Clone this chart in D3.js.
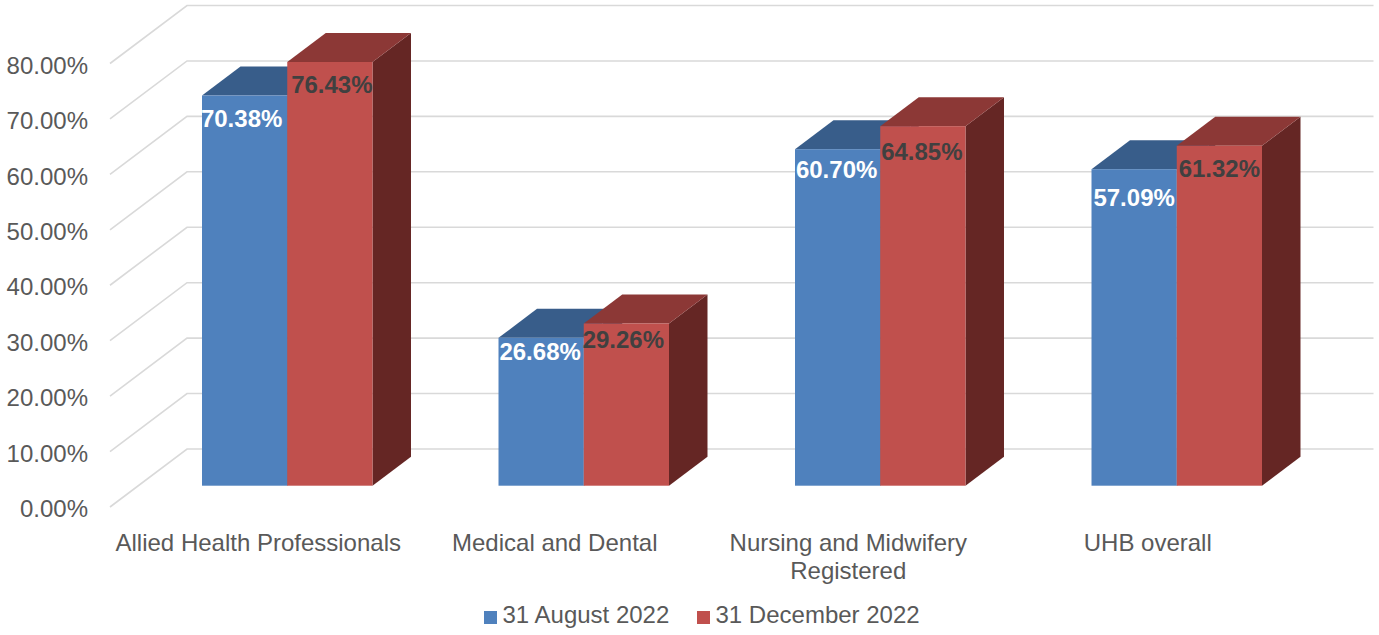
<!DOCTYPE html>
<html>
<head>
<meta charset="utf-8">
<script src="https://cdn.jsdelivr.net/npm/d3@7"></script>
<style>
  html, body { margin: 0; background: #fff; }
  svg { display: block; }
  text { font-family: "Liberation Sans", Arial, sans-serif; font-size: 24px; fill: #595959; }
</style>
</head>
<body>
<svg id="chart" width="1379" height="635"></svg>
<script>
const categories = ["Allied Health Professionals", "Medical and Dental", "Nursing and Midwifery Registered", "UHB overall"];
const seriesNames = ["31 August 2022", "31 December 2022"];
const august = [70.38, 26.68, 60.70, 57.09];
const december = [76.43, 29.26, 64.85, 61.32];
const yTicks = [0, 10, 20, 30, 40, 50, 60, 70, 80];

// labels were dragged by hand in the original chart, so each one has its own nudge
const augustNudgeX = [-3, -1, -1, 0];
const augustNudgeY = [0, -9, -2, 6];
const decemberNudgeX = [2, -3, -1, 0];
const decemberNudgeY = [0, -6, 3, 0];

const blue = { front: "#4f81bd", top: "#385d8a", side: "#2c4a6e", label: "#ffffff" };
const red = { front: "#c0504d", top: "#8c3836", side: "#652624", label: "#404040" };

const svg = d3.select("#chart");

// the 3d look: floor depth in px, bars sit part way back on the floor
const wallDx = 77, wallDy = -58;
const barInsetDx = 28, barInsetDy = -21.3;
const barDx = 38.5, barDy = -29;

const y = d3.scaleLinear().domain([0, 80]).range([507, 63.5]);
const x = d3.scaleBand().domain(categories).range([110, 1296]);
const xBars = d3.scaleBand().domain(categories).range([139, 1325]).paddingInner(0.425).paddingOuter(0.2125);
const xSeries = d3.scaleBand().domain(seriesNames).range([0, xBars.bandwidth()]);

// gridlines run along the side wall then across the back wall
svg.append("g").selectAll("path")
  .data(yTicks)
  .enter()
  .append("path")
  .attr("d", d => {
    const p = d3.path();
    p.moveTo(x.range()[0], y(d));
    p.lineTo(x.range()[0] + wallDx, y(d) + wallDy);
    p.lineTo(x.range()[1] + wallDx + 0.5, y(d) + wallDy);
    return p.toString();
  })
  .attr("fill", "none")
  .attr("stroke", "#d9d9d9")
  .attr("stroke-width", 1.6);

const yAxis = svg.append("g")
  .attr("transform", "translate(92,2)")
  .call(d3.axisLeft(y).tickValues(yTicks).tickSize(0).tickPadding(4).tickFormat(d => d.toFixed(2) + "%"));
yAxis.select(".domain").remove();

const xAxis = svg.append("g")
  .attr("transform", "translate(0,524)")
  .call(d3.axisBottom(x).tickSize(0).tickPadding(0));
xAxis.select(".domain").remove();
xAxis.selectAll("text").attr("dy", null).attr("y", 27).call(wrap, x.bandwidth());

function wrap(sel, width) {
  sel.each(function() {
    const text = d3.select(this);
    const words = text.text().split(" ");
    text.text(null);
    let line = [];
    let tspan = text.append("tspan").attr("x", 0).attr("y", 27);
    words.forEach(w => {
      line.push(w);
      tspan.text(line.join(" "));
      if (tspan.node().getComputedTextLength() > width && line.length > 1) {
        line.pop();
        tspan.text(line.join(" "));
        line = [w];
        tspan = text.append("tspan").attr("x", 0).attr("y", 55).text(w);
        text.attr("x", -3).selectAll("tspan").attr("x", -3);
      }
    });
  });
}

function drawSeries(name, values, col) {
  const bars = svg.append("g").selectAll("g")
    .data(values)
    .enter()
    .append("g");

  const x0 = (d, i) => xBars(categories[i]) + xSeries(name);
  const w = xSeries.bandwidth();
  const base = y(0) + barInsetDy;
  const topY = d => y(d) + barInsetDy;

  bars.append("path")
    .attr("fill", col.side)
    .attr("d", (d, i) => d3.line()([
      [x0(d, i) + w, topY(d)],
      [x0(d, i) + w + barDx, topY(d) + barDy],
      [x0(d, i) + w + barDx, base + barDy],
      [x0(d, i) + w, base]
    ]) + "Z");

  bars.append("path")
    .attr("fill", col.top)
    .attr("d", (d, i) => d3.line()([
      [x0(d, i), topY(d)],
      [x0(d, i) + barDx, topY(d) + barDy],
      [x0(d, i) + w + barDx, topY(d) + barDy],
      [x0(d, i) + w, topY(d)]
    ]) + "Z");

  bars.append("rect")
    .attr("x", x0)
    .attr("y", topY)
    .attr("width", w)
    .attr("height", d => base - topY(d))
    .attr("fill", col.front);
}

drawSeries(seriesNames[0], august, blue);
drawSeries(seriesNames[1], december, red);

function drawLabels(name, values, col, nudgeX, nudgeY) {
  svg.append("g").selectAll("text")
    .data(values)
    .enter()
    .append("text")
    .attr("x", (d, i) => xBars(categories[i]) + xSeries(name) + xSeries.bandwidth() / 2 + nudgeX[i])
    .attr("y", (d, i) => y(d) + barInsetDy + 31 + nudgeY[i])
    .attr("text-anchor", "middle")
    .style("font-weight", "bold")
    .style("fill", col.label)
    .text(d => d.toFixed(2) + "%");
}
drawLabels(seriesNames[0], august, blue, augustNudgeX, augustNudgeY);
drawLabels(seriesNames[1], december, red, decemberNudgeX, decemberNudgeY);

// legend
const legendX = d3.scaleOrdinal().domain(seriesNames).range([484, 697]);
const legend = svg.append("g").selectAll("g")
  .data(seriesNames)
  .enter()
  .append("g")
  .attr("transform", d => `translate(${legendX(d)},611)`);
legend.append("rect")
  .attr("width", 13)
  .attr("height", 13)
  .attr("fill", (d, i) => [blue, red][i].front);
legend.append("text")
  .attr("x", 18.5)
  .attr("y", 11.7)
  .text(d => d);
</script>
</body>
</html>
